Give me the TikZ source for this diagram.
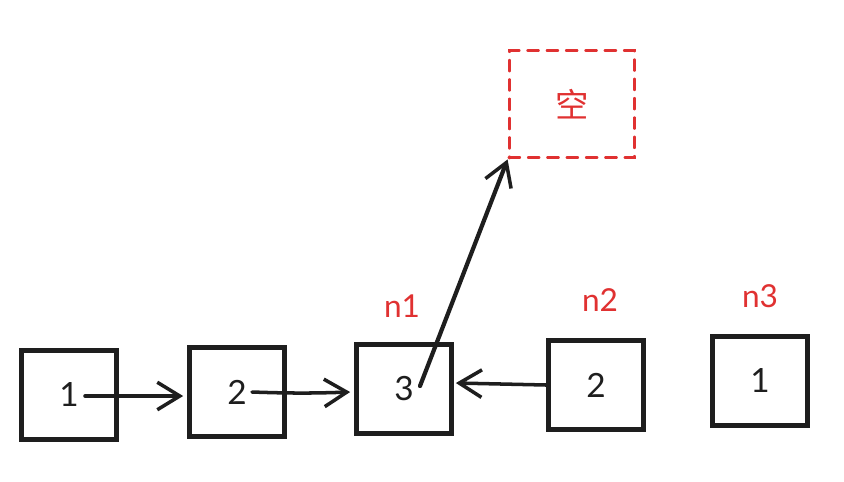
\documentclass[tikz,border=0pt]{standalone}
\usepackage{fontspec}
\setmainfont{Lato}
\newfontfamily\cjk{Noto Sans CJK SC}
\usetikzlibrary{arrows.meta,calc}
\definecolor{ink}{HTML}{1E1E1E}
\definecolor{hred}{HTML}{E03131}
\tikzset{
  cell/.style={draw=ink, line width=2.7pt, minimum width=1.9cm, minimum height=1.78cm, font=\fontsize{19}{22}\selectfont, text=ink},
  lbl/.style={text=hred, font=\fontsize{18}{20}\selectfont},
  link/.style={draw=ink, line width=2pt, line cap=round, -{Straight Barb[length=4.5mm,width=5.5mm,line width=2pt]}}
}
\begin{document}
\begin{tikzpicture}[x=0.02cm, y=-0.02cm]
    \useasboundingbox (0,0) rectangle (844,481);
    % list cells, 1px = 0.02cm
    \foreach \name/\x/\y/\t in {a/69/395/1, b/237/392/2, c/404/389/3, d/596/385/2, e/760/381/1} {
      \node[cell] (\name) at (\x,\y) {\t};
    }
    \node[draw=hred, dash pattern=on 5.5pt off 5.5pt, line cap=round, line width=2.2pt,
          minimum width=2.5cm, minimum height=2.14cm, text=hred] (nil) at (572,104)
          {\cjk\fontsize{19}{22}\selectfont 空};
    \foreach \name/\x/\y/\t in {l1/402/306/n1, l2/600/300/n2, l3/760/296/n3} {
      \node[lbl] (\name) at (\x,\y) {\t};
    }
    \draw[link] ($(a.center)+(16,1)$) -- ($(b.west)+(-4,4)$);
    \draw[link] ($(b.center)+(15,0)$) to[bend right=2] ($(c.west)+(-4,3)$);
    \draw[link] (d.west) -- ($(c.east)+(2,-6)$);
    \draw[link, line width=2.4pt] ($(c.center)+(16,-3)$) -- (nil.south west);
\end{tikzpicture}
\end{document}
